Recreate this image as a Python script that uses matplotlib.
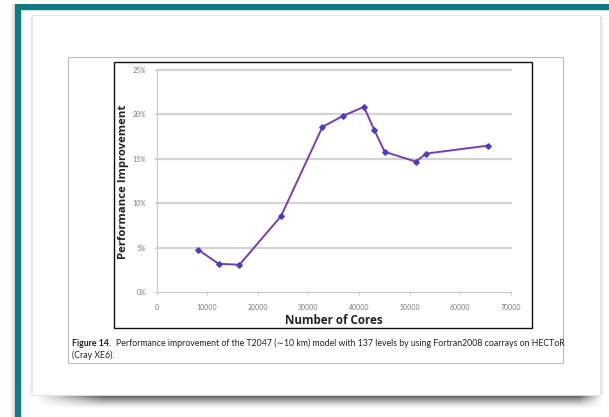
import numpy as np
import matplotlib
matplotlib.use("Agg")
import matplotlib.pyplot as plt
from matplotlib.patches import Rectangle

# Data: performance improvement versus core count
cores = [8192, 12288, 16384, 24576, 32768, 36864, 40960, 43008, 45056, 51200, 53248, 65536]
improvement = [4.8, 3.2, 3.1, 8.55, 18.6, 19.85, 20.85, 18.25, 15.8, 14.7, 15.6, 16.5]
x_ticks = [0, 10000, 20000, 30000, 40000, 50000, 60000, 70000]
y_ticks = [0, 5, 10, 15, 20, 25]

W, H = 609, 417
fig = plt.figure(figsize=(W / 100, H / 100), dpi=100)
fig.patch.set_facecolor("white")

# Page layer in pixel coordinates (origin top-left)
bg = fig.add_axes([0, 0, 1, 1])
bg.set_xlim(0, W)
bg.set_ylim(H, 0)
bg.axis("off")

teal = "#0f7a82"

# soft shadow left of the teal frame
sh = np.linspace(0, 1, 20).reshape(1, -1)
rgba = np.zeros((1, 20, 4))
rgba[..., :3] = 0.45
rgba[..., 3] = 0.35 * sh ** 2
bg.imshow(rgba, extent=(9, 15, H, 4), aspect="auto", zorder=1, interpolation="bilinear")

# teal frame (left and top bars)
bg.add_patch(Rectangle((15, 4), 5.5, H - 4, facecolor=teal, edgecolor="none", zorder=2))
bg.add_patch(Rectangle((15, 4), W - 15, 5.5, facecolor=teal, edgecolor="none", zorder=2))
bg.add_patch(Rectangle((20.5, 9.5), 1.2, H, facecolor="#bfe6ea", edgecolor="none", zorder=2))
bg.add_patch(Rectangle((20.5, 9.5), W, 1.2, facecolor="#bfe6ea", edgecolor="none", zorder=2))

# card shadow below
yy = np.linspace(0, 1, 30).reshape(-1, 1)
xx = np.linspace(0, 1, 300).reshape(1, -1)
a_y = np.clip(1 - yy, 0, 1) ** 1.4
a_x = np.clip(xx / 0.12, 0, 1) * np.clip((1 - xx) / 0.04, 0, 1)
rgba = np.zeros((30, 300, 4))
rgba[..., :3] = 0.28
rgba[..., 3] = 0.95 * a_y * a_x
bg.imshow(rgba, extent=(34, 603, 409, 395), aspect="auto", zorder=3, interpolation="bilinear")

# card side shadows
rgba = np.zeros((1, 20, 4))
rgba[..., :3] = 0.5
rgba[..., 3] = 0.35 * np.linspace(1, 0, 20) ** 2
bg.imshow(rgba, extent=(600, 605, 395, 17), aspect="auto", zorder=3, interpolation="bilinear")
rgba = np.zeros((1, 20, 4))
rgba[..., :3] = 0.5
rgba[..., 3] = 0.25 * np.linspace(0, 1, 20) ** 2
bg.imshow(rgba, extent=(29, 32, 395, 17), aspect="auto", zorder=3, interpolation="bilinear")

# white card
bg.add_patch(Rectangle((32, 15), 568, 380, facecolor="white", edgecolor="#e4e4e4",
                       linewidth=0.6, zorder=4))

# figure frame and inner chart frame
bg.add_patch(Rectangle((67.5, 56.5), 495.5, 306.5, facecolor="none", edgecolor="#bdbdbd",
                       linewidth=0.8, zorder=5))
bg.add_patch(Rectangle((113.5, 61.5), 418.5, 266.5, facecolor="none", edgecolor="#111111",
                       linewidth=1.0, zorder=5))

# caption
cap_font = ["Lato", "DejaVu Sans"]
cap_size = 6.3
t1 = bg.text(72, 346.5, "Figure 14.", fontsize=cap_size, fontweight="bold", family=cap_font,
             color="#222222", va="baseline", ha="left", zorder=6)
fig.canvas.draw()
bb = t1.get_window_extent()
x_after = bb.x1 + 4.5
bg.text(x_after, 346.5,
        "Performance improvement of the T2047 (\u223c10 km) model with 137 levels by using "
        "Fortran2008 coarrays on HECToR",
        fontsize=cap_size, family=cap_font, color="#222222", va="baseline", ha="left", zorder=6)
bg.text(72, 358.5, "(Cray XE6).", fontsize=cap_size, family=cap_font, color="#222222",
        va="baseline", ha="left", zorder=6)

# chart axes
x0, x1 = 156.5, 511.0
y0, y1 = 292.3, 70.0
ax = fig.add_axes([x0 / W, 1 - y0 / H, (x1 - x0) / W, (y0 - y1) / H])
ax.set_zorder(7)
ax.patch.set_alpha(0)
ax.set_xlim(0, 70000)
ax.set_ylim(0, 25)

for v in y_ticks[1:]:
    ax.axhline(v, color="#d3d3d3", linewidth=1.6, zorder=1, clip_on=False)

for s in ["top", "right"]:
    ax.spines[s].set_visible(False)
for s in ["left", "bottom"]:
    ax.spines[s].set_color("#c8c8c8")
    ax.spines[s].set_linewidth(0.8)

ax.set_xticks(x_ticks)
ax.set_xticklabels([str(v) for v in x_ticks])
ax.set_yticks(y_ticks)
ax.set_yticklabels([f"{v}%" for v in y_ticks])
ax.tick_params(axis="both", colors="#c8c8c8", labelcolor="#7a7a7a", labelsize=5.0,
               length=2.5, width=0.6, direction="out")
ax.tick_params(axis="x", pad=6)
ax.tick_params(axis="y", pad=5)
for lab in ax.get_xticklabels() + ax.get_yticklabels():
    lab.set_family(["Lato", "DejaVu Sans"])

ax.plot(cores, improvement, color="#7a3cb0", linewidth=1.4, zorder=3, clip_on=False,
        marker="D", markersize=2.8, markerfacecolor="#4a3fb5", markeredgecolor="#4a3fb5")

fig.text(123.5 / W, 1 - 182 / H, "Performance Improvement", rotation=90, fontsize=8.2,
         fontweight="bold", family=["Open Sans", "DejaVu Sans"], color="#222222",
         ha="center", va="center", zorder=8)
fig.text(334 / W, 1 - 320 / H, "Number of Cores", fontsize=8.4, fontweight="bold",
         family=["Open Sans", "DejaVu Sans"], color="#222222", ha="center", va="center",
         zorder=8)

fig.savefig("out.png", dpi=100)
